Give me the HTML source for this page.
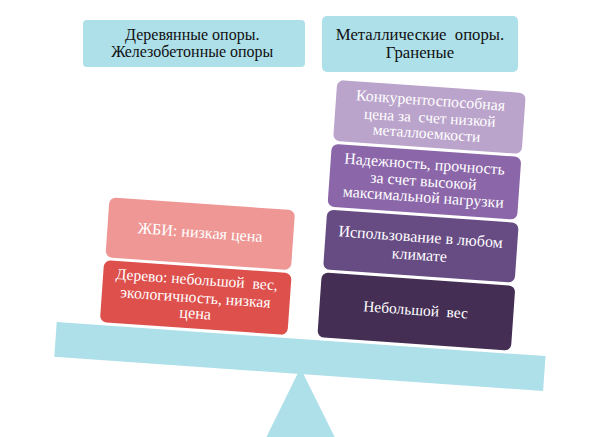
<!DOCTYPE html>
<html lang="ru">
<head>
<meta charset="utf-8">
<title>Balance</title>
<style>
html,body{margin:0;padding:0;background:#fff;}
body{width:600px;height:437px;overflow:hidden;font-family:"Liberation Serif",serif;}
#page{position:relative;width:600px;height:437px;overflow:hidden;background:#fff;}
.t{position:absolute;box-sizing:border-box;display:flex;align-items:center;justify-content:center;text-align:center;white-space:pre;}
.x{display:block;}
.s{position:relative;}
.title{background:#aee0ea;color:#111;border-radius:5px;}
#rot{position:absolute;left:0;top:0;width:600px;height:437px;transform-origin:300.1px 355.3px;transform:rotate(4deg);}
.b{color:#fff;border-radius:6.5px;font-size:16px;line-height:16.6px;}
#beam{position:absolute;left:55.0px;top:338.6px;width:489.7px;height:35.8px;background:#aee0ea;}
#tri{position:absolute;left:0;top:0;}
</style>
</head>
<body>
<div id="page">
<svg id="tri" width="600" height="437" viewBox="0 0 600 437"><polygon points="300.4,368 256.1,458 345.1,458" fill="#aee0ea"/></svg>

<div class="t title" style="border-radius:4px;left:83px;top:20px;width:221.5px;height:47.2px;font-size:16px;line-height:17.4px;padding:0 3px 0.5px 0;"><div class="x">Деревянные опоры.
Железобетонные опоры</div></div>
<div class="t title" style="left:322.2px;top:16.3px;width:195.6px;height:55.4px;font-size:16.7px;line-height:17.7px;padding:0.2px 0 0 0;"><div class="x">Металлические  опоры.
Граненые</div></div>

<div id="rot">
  <div id="beam"></div>
  <div class="t b" style="left:317.7px;top:78.2px;width:189.6px;height:60.7px;background:#bba4cb;"><div class="x"><span style="font-size:15.8px">Конкурентоспособная</span>
<span class="s" style="font-size:15.45px;top:1.3px;display:inline-block;transform-origin:0 50%;transform:rotate(-0.6deg)">цена за  счет низкой</span>
<span class="s" style="font-size:15.5px;left:-1.7px;top:-0.2px">металлоемкости</span></div></div>
  <div class="t b" style="left:316.8px;top:142.1px;width:190.4px;height:62.9px;background:#8b66a9;font-size:15.9px;line-height:16.9px;padding:0 2px 0.8px 0;"><div class="x">Надежность, прочность
за счет высокой
<span class="s" style="left:1px;top:-0.5px">максимальной нагрузки</span></div></div>
  <div class="t b" style="left:316.8px;top:208.4px;width:192.7px;height:59.3px;background:#674b83;line-height:17.4px;padding:0 2px 0.4px 0;"><div class="x">Использование в любом
климате</div></div>
  <div class="t b" style="left:316.0px;top:270.6px;width:193.5px;height:65.4px;background:#442e54;font-size:15.4px;padding:0 1.2px 2px 0;"><div class="x">Небольшой  вес</div></div>

  <div class="t b" style="left:98.8px;top:210.5px;width:186px;height:60.2px;background:#ee9795;font-size:16.1px;"><div class="x">ЖБИ: низкая цена</div></div>
  <div class="t b" style="left:98.2px;top:273.6px;width:187.8px;height:62.0px;background:#dd504c;padding:0 0.6px 1.6px 0;"><div class="x"><span class="s" style="font-size:15.55px;top:-0.3px">Дерево: небольшой  вес,</span>
<span class="s" style="font-size:15.8px;top:1.4px">экологичность, низкая</span>
<span class="s" style="font-size:16.3px;left:0.8px;top:0.6px">цена</span></div></div>
</div>
</div>
</body>
</html>
